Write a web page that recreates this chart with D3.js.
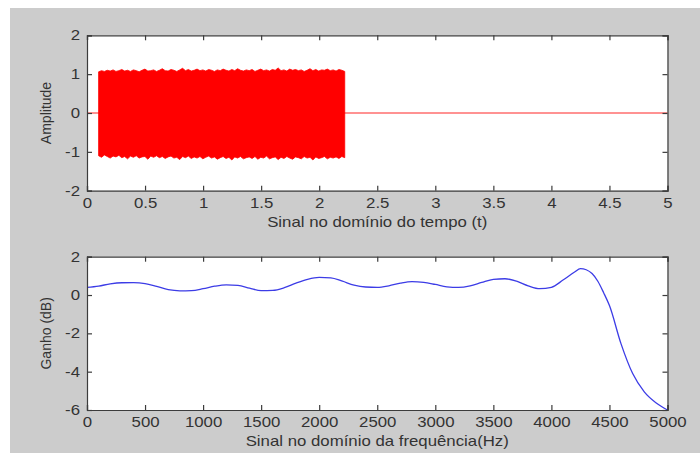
<!DOCTYPE html>
<html>
<head>
<meta charset="utf-8">
<script src="https://cdn.jsdelivr.net/npm/d3@7"></script>
<style>
  body { margin: 0; background: #ffffff; }
  svg { display: block; }
  text { font-family: "Liberation Sans", Arial, sans-serif; }
</style>
</head>
<body>
<svg id="chart" width="700" height="453"></svg>
<script>
// ---------- DATA ----------
// Top: time-domain signal (burst from signalStart to signalEnd, envelope)
const timeTicks = [0, 0.5, 1, 1.5, 2, 2.5, 3, 3.5, 4, 4.5, 5];
const ampTicks = [-2, -1, 0, 1, 2];
const signalStart = 0.1;
const signalEnd = 2.22;
const upperEnvelope = [
  1.06,1.09,1.07,1.10,1.08,1.11,1.07,1.09,1.12,1.08,
  1.10,1.07,1.11,1.09,1.06,1.10,1.13,1.08,1.09,1.11,
  1.07,1.10,1.14,1.09,1.08,1.12,1.10,1.07,1.11,1.15,
  1.09,1.12,1.08,1.10,1.13,1.09,1.11,1.08,1.12,1.10,
  1.07,1.11,1.09,1.13,1.10,1.08,1.12,1.09,1.14,1.10,
  1.08,1.11,1.09,1.12,1.07,1.10,1.13,1.09,1.11,1.08,
  1.12,1.10,1.16,1.09,1.11,1.08,1.13,1.10,1.12,1.09,
  1.11,1.07,1.10,1.14,1.09,1.12,1.08,1.11,1.10,1.13,
  1.09,1.11,1.08,1.12,1.10,1.07
];
const lowerEnvelope = [
  -1.10,-1.14,-1.08,-1.12,-1.16,-1.11,-1.13,-1.09,-1.15,-1.12,
  -1.18,-1.11,-1.14,-1.10,-1.16,-1.13,-1.12,-1.19,-1.11,-1.14,
  -1.10,-1.15,-1.12,-1.17,-1.13,-1.11,-1.16,-1.14,-1.20,-1.12,
  -1.15,-1.11,-1.17,-1.13,-1.16,-1.12,-1.18,-1.14,-1.11,-1.16,
  -1.13,-1.19,-1.15,-1.12,-1.17,-1.14,-1.21,-1.13,-1.16,-1.12,
  -1.18,-1.15,-1.13,-1.17,-1.12,-1.19,-1.14,-1.16,-1.11,-1.18,
  -1.15,-1.13,-1.20,-1.14,-1.17,-1.12,-1.16,-1.19,-1.13,-1.15,
  -1.18,-1.12,-1.16,-1.14,-1.21,-1.13,-1.17,-1.15,-1.12,-1.18,
  -1.14,-1.16,-1.13,-1.17,-1.12,-1.15
];

// Bottom: frequency response
const freqTicks = [0, 500, 1000, 1500, 2000, 2500, 3000, 3500, 4000, 4500, 5000];
const gainTicks = [-6, -4, -2, 0, 2];
const freqs = [0,100,200,300,400,500,600,700,800,900,1000,1100,1200,1300,1400,1500,1600,1700,1800,1900,
  2000,2100,2200,2300,2400,2500,2600,2700,2800,2900,3000,3100,3200,3300,3400,3500,3600,3700,3800,3900,
  4000,4100,4200,4250,4300,4350,4400,4450,4500,4600,4700,4800,4900,5000];
const gains = [0.40,0.47,0.58,0.64,0.65,0.60,0.45,0.28,0.22,0.23,0.33,0.46,0.53,0.50,0.36,0.23,0.24,0.38,0.62,0.82,
  0.92,0.90,0.72,0.52,0.42,0.40,0.48,0.62,0.70,0.66,0.55,0.43,0.40,0.48,0.66,0.82,0.85,0.72,0.48,0.33,
  0.40,0.78,1.20,1.38,1.32,1.12,0.72,0.12,-0.55,-2.55,-4.10,-5.05,-5.62,-6.00];

// ---------- LAYOUT ----------
const svg = d3.select("#chart");
const W = 700, H = 453;
const textColor = "#333333";
const axisColor = "#3c3c3c";
const SX = 1.2; // horizontal stretch of the original text

svg.append("rect").attr("x", 0).attr("y", 0).attr("width", W).attr("height", H).attr("fill", "#ffffff");
svg.append("rect").attr("x", 10).attr("y", 8).attr("width", W - 10).attr("height", H - 8).attr("fill", "#cccccc");

function drawPanel(box, xDomain, yDomain, xTicks, yTicks, xTitle, yTitle) {
  const x = d3.scaleLinear().domain(xDomain).range([box.left, box.right]);
  const y = d3.scaleLinear().domain(yDomain).range([box.bottom, box.top]);
  svg.append("rect")
    .attr("x", box.left).attr("y", box.top)
    .attr("width", box.right - box.left).attr("height", box.bottom - box.top)
    .attr("fill", "#ffffff");
  return { x, y, finish: () => {
    const fmt = d => String(d);
    const gB = svg.append("g").attr("transform", `translate(0,${box.bottom})`)
      .call(d3.axisBottom(x).tickValues(xTicks).tickFormat(fmt).tickSize(-5).tickPadding(7));
    const gT = svg.append("g").attr("transform", `translate(0,${box.top})`)
      .call(d3.axisTop(x).tickValues(xTicks).tickFormat("").tickSize(-5));
    const gL = svg.append("g").attr("transform", `translate(${box.left},0)`)
      .call(d3.axisLeft(y).tickValues(yTicks).tickFormat(fmt).tickSize(-5).tickPadding(7));
    const gR = svg.append("g").attr("transform", `translate(${box.right},0)`)
      .call(d3.axisRight(y).tickValues(yTicks).tickFormat("").tickSize(-5));
    [gB, gT, gL, gR].forEach(g => {
      g.select(".domain").attr("stroke", axisColor).attr("stroke-width", 1.2);
      g.selectAll(".tick line").attr("stroke", axisColor).attr("stroke-width", 1.2);
      g.selectAll(".tick text").attr("fill", textColor).attr("font-size", 14)
        .attr("font-family", '"Liberation Sans", Arial, sans-serif');
    });
    gB.selectAll(".tick text").attr("transform", `scale(${SX},1)`);
    gL.selectAll(".tick text").attr("x", -7 / SX).attr("transform", `scale(${SX},1)`);
    svg.append("text")
      .attr("transform", `translate(${(box.left + box.right) / 2},${box.bottom + 36}) scale(${SX},1)`)
      .attr("text-anchor", "middle").attr("font-size", 14).attr("fill", textColor)
      .text(xTitle);
    svg.append("text")
      .attr("transform", `translate(51,${(box.top + box.bottom) / 2}) rotate(-90)`)
      .attr("text-anchor", "middle").attr("font-size", 14).attr("fill", textColor)
      .text(yTitle);
  }};
}

// ---------- TOP PANEL ----------
const timePanel = drawPanel({ left: 87, right: 667.5, top: 35.3, bottom: 190.7 },
  [0, 5], [-2, 2], timeTicks, ampTicks, "Sinal no domínio do tempo (t)", "Amplitude");

svg.append("line")
  .attr("x1", timePanel.x(0)).attr("x2", timePanel.x(5))
  .attr("y1", timePanel.y(0)).attr("y2", timePanel.y(0))
  .attr("stroke", "#ff6e6e").attr("stroke-width", 1.6);

const nEnv = upperEnvelope.length;
const tScale = d3.scaleLinear().domain([0, nEnv - 1]).range([signalStart, signalEnd]);
const envData = upperEnvelope.map((u, i) => ({ t: tScale(i), u, l: lowerEnvelope[i] }));
svg.append("path")
  .datum(envData)
  .attr("d", d3.area().x(d => timePanel.x(d.t)).y0(d => timePanel.y(d.l)).y1(d => timePanel.y(d.u)))
  .attr("fill", "#ff0000").attr("stroke", "#ff0000").attr("stroke-width", 0.8);
timePanel.finish();

// ---------- BOTTOM PANEL ----------
const freqPanel = drawPanel({ left: 87, right: 667.5, top: 256.7, bottom: 410 },
  [0, 5000], [-6, 2], freqTicks, gainTicks, "Sinal no domínio da frequência(Hz)", "Ganho (dB)");

svg.append("path")
  .datum(freqs.map((f, i) => ({ f, g: gains[i] })))
  .attr("d", d3.line().x(d => freqPanel.x(d.f)).y(d => freqPanel.y(d.g)).curve(d3.curveMonotoneX))
  .attr("fill", "none").attr("stroke", "#3c3ce6").attr("stroke-width", 1.3);
freqPanel.finish();
</script>
</body>
</html>
